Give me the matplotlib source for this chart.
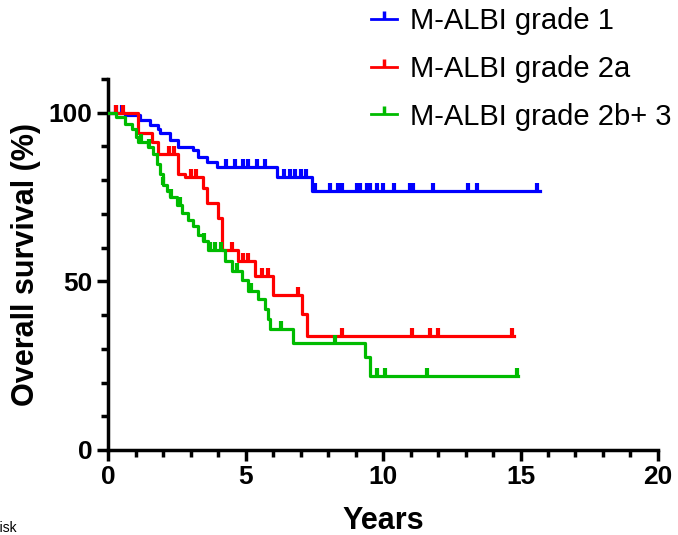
import numpy as np
import matplotlib
matplotlib.use("Agg")
import matplotlib.pyplot as plt

plt.rcParams['font.family'] = ['Liberation Sans', 'DejaVu Sans']

# step points (years, survival %)
g1_t = [0, 0.6, 1.16, 1.53, 1.8, 1.9, 2.25, 2.55, 3.1, 3.27, 3.6, 3.96, 6.14, 7.4, 15.7]
g1_s = [100, 99.2, 97.9, 96.4, 95.3, 93.9, 91.9, 89.8, 88.9, 86.8, 85.3, 83.8, 80.8, 76.8, 76.8]
g1_cens = [0.3, 0.5, 4.3, 4.6, 4.9, 5.1, 5.4, 5.7, 6.4, 6.6, 6.8, 7.0, 7.2,
           7.53, 8.07, 8.36, 8.51, 9.05, 9.16, 9.42, 9.53, 9.78, 10.0, 10.4,
           10.98, 11.1, 11.8, 13.1, 13.4, 15.6]

g2_t = [0, 1.1, 1.6, 1.8, 2.55, 2.8, 3.45, 3.6, 4.0, 4.15, 4.73, 5.35, 6.0, 7.05, 7.23, 14.75]
g2_s = [100, 94.0, 91.3, 87.8, 81.7, 80.8, 77.8, 73.3, 68.9, 59.3, 56.0, 51.5, 46.1, 40.4, 33.8, 33.8]
g2_cens = [0.3, 0.55, 2.2, 2.4, 3.0, 3.2, 4.5, 4.9, 5.1, 5.6, 5.8, 6.9,
           8.5, 11.05, 11.7, 12.0, 14.7]

g3_t = [0, 0.3, 0.6, 0.87, 1.0, 1.1, 1.45, 1.65, 1.77, 1.9, 2.0, 2.14, 2.25, 2.5,
        2.7, 2.9, 3.1, 3.27, 3.45, 3.64, 4.25, 4.5, 4.87, 5.1, 5.45, 5.7, 5.83,
        5.9, 6.73, 9.35, 9.53, 14.9]
g3_s = [100, 98.8, 96.8, 95.3, 92.8, 91.3, 89.8, 87.7, 84.7, 81.7, 78.7, 76.9,
        74.9, 72.5, 70.4, 68.3, 66.5, 63.8, 62.0, 59.3, 56.0, 53.0, 50.3, 47.0,
        44.9, 41.9, 38.9, 35.9, 31.7, 27.5, 21.9, 21.9]
g3_cens = [1.2, 1.5, 2.0, 2.3, 2.6, 3.5, 3.7, 3.9, 4.1, 4.7, 5.2, 6.3, 8.25,
           9.78, 10.07, 11.6, 14.87]

labels = ['M-ALBI grade 1', 'M-ALBI grade 2a', 'M-ALBI grade 2b+ 3']
colors = ['#0000ff', '#ff0000', '#00bb00']

fig = plt.figure(figsize=(6.78, 5.35), dpi=100)
ax = fig.add_axes([0.1593, 0.1589, 0.8112, 0.6934])


def surv_at(t, s, x):
    i = np.searchsorted(t, x, side='right') - 1
    return np.asarray(s)[i]


for t, s, c, col, lab in [(g1_t, g1_s, g1_cens, colors[0], labels[0]),
                          (g2_t, g2_s, g2_cens, colors[1], labels[1]),
                          (g3_t, g3_s, g3_cens, colors[2], labels[2])]:
    ax.step(t, s, where='post', color=col, lw=2.3, zorder=3)
    cs = surv_at(t, s, np.array(c))
    ax.plot(c, cs, linestyle='none', marker=2, markersize=6, mew=3,
            color=col, zorder=3)
    ax.plot([], [], color=col, lw=2.0, marker=2, markersize=6, mew=2.5,
            label=lab)

ax.set_xlim(0, 20)
ax.set_ylim(0, 110)
ax.set_xticks([0, 5, 10, 15, 20])
ax.set_xticks(np.arange(0, 21, 1), minor=True)
ax.set_yticks([0, 50, 100])
ax.set_yticks(np.arange(0, 111, 10), minor=True)
for sp in ['top', 'right']:
    ax.spines[sp].set_visible(False)
for sp in ['left', 'bottom']:
    ax.spines[sp].set_linewidth(2.5)
ax.tick_params(which='major', width=2.5, length=8, labelsize=19, pad=3)
ax.tick_params(which='minor', width=2.5, length=5)
for lab in ax.get_xticklabels() + ax.get_yticklabels():
    lab.set_fontweight('bold')

ax.set_xlabel('Years', fontsize=22, fontweight='bold', labelpad=12)
ax.set_ylabel('Overall survival (%)', fontsize=22, fontweight='bold', labelpad=6)

ax.legend(loc='upper left', bbox_to_anchor=(0.43, 1.265), frameon=False,
          fontsize=21, handlelength=0.9, handletextpad=0.45, labelspacing=0.68)

fig.text(17 / 678, 0.0, 'Number at risk', ha='right', va='bottom', fontsize=10)

fig.savefig('out.png', dpi=100)
